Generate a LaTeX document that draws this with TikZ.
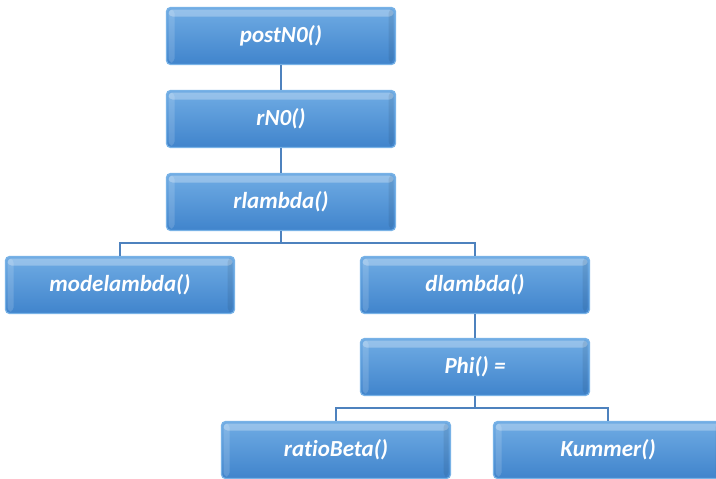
\documentclass[tikz,border=0pt]{standalone}
\usepackage{fontspec}
\setmainfont[Ligatures=NoCommon]{Carlito}
\definecolor{boxtop}{RGB}{112,172,228}
\definecolor{boxbot}{RGB}{64,132,204}
\definecolor{boxedge}{RGB}{120,178,230}
\definecolor{linec}{RGB}{78,130,190}
\begin{document}
\begin{tikzpicture}[x=1pt,y=-1pt,
  fbox/.style={rectangle, rounded corners=4pt, minimum width=229pt, minimum height=57pt,
    top color=boxtop, bottom color=boxbot, draw=boxedge, line width=1.2pt,
    text=white, font=\fontsize{23}{27}\selectfont\bfseries\itshape, inner sep=0pt,
    path picture={
      \fill[white,opacity=0.28] ([xshift=2pt,yshift=-2pt]path picture bounding box.north west) rectangle ([xshift=-2pt,yshift=-9pt]path picture bounding box.north east);
      \fill[white,opacity=0.15] ([xshift=2pt,yshift=-2pt]path picture bounding box.north west) rectangle ([xshift=8pt,yshift=2pt]path picture bounding box.south west);
      \fill[black,opacity=0.08] ([xshift=-7pt,yshift=-2pt]path picture bounding box.north east) rectangle ([xshift=-2pt,yshift=2pt]path picture bounding box.south east);
    }},
  conn/.style={draw=linec, line width=1.8pt}]
\useasboundingbox (0,0) rectangle (716,479);
\node[fbox] (post) at (281,36) {postN0()};
\node[fbox] (rn0) at (281,119) {rN0()};
\node[fbox] (rlam) at (281,202) {rlambda()};
\node[fbox] (mode) at (120,285) {modelambda()};
\node[fbox] (dlam) at (475,285) {dlambda()};
\node[fbox] (phi) at (475,367) {Phi() =};
\node[fbox] (ratio) at (336,450) {ratioBeta()};
\node[fbox] (kum) at (608,450) {Kummer()};
\coordinate (b1) at (281,243);
\coordinate (b2) at (475,408);
\draw[conn] (post) -- (rn0);
\draw[conn] (rn0) -- (rlam);
\draw[conn] (rlam.south) -- (b1);
\draw[conn] (b1) -| (mode.north);
\draw[conn] (b1) -| (dlam.north);
\draw[conn] (dlam) -- (phi);
\draw[conn] (phi.south) -- (b2);
\draw[conn] (b2) -| (ratio.north);
\draw[conn] (b2) -| (kum.north);
\end{tikzpicture}
\end{document}
